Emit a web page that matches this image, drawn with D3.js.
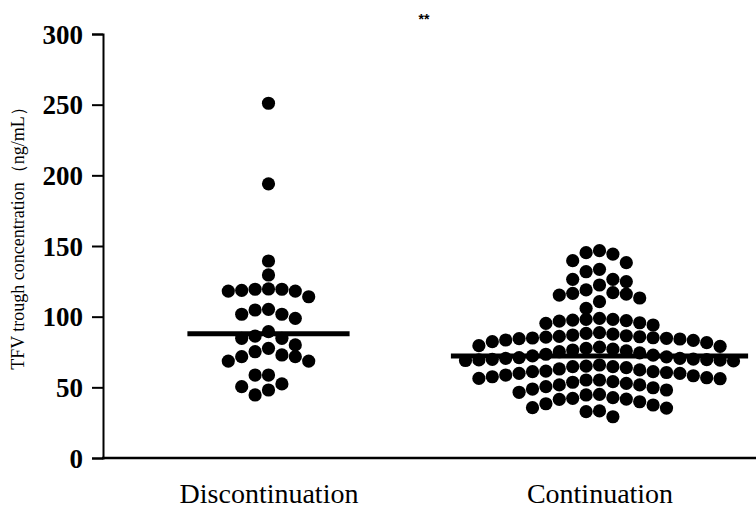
<!DOCTYPE html>
<html><head><meta charset="utf-8">
<script src="https://cdn.jsdelivr.net/npm/d3@7"></script>
<style>body{margin:0;background:#fff} svg{display:block}</style>
</head><body>
<svg id="chart" width="756" height="509"></svg>
<script>
// ---- data ----
const categories = ["Discontinuation", "Continuation"];
const discontinuation = [251, 194, 139.4, 129.5, 119.6, 119.4, 119.4, 118.6, 118.1, 118.1, 114.1,
  105.2, 104.7, 101.7, 101.7, 98.8, 89.4, 86.3, 84.7, 84.7, 80.0, 77.6, 75.2, 72.9, 71.7, 71.7,
  68.6, 68.6, 58.7, 58.7, 52.4, 50.5, 48.1, 44.6];
const continuation = [146.7, 145.3, 144.3, 139.6, 138.2,
  133.5, 131.8, 126.4, 126.4, 124.8,
  122.4, 118.9, 117.0, 116.5, 116.0, 115.3, 113.2,
  110.6, 105.9,
  98.8, 98.1, 98.1, 97.6, 97.2, 96.9, 95.7, 95.3, 94.1,
  88.7, 88.2, 87.6, 87.0, 86.5, 86.0, 85.8, 85.5, 85.1, 84.9, 84.7, 84.5, 84.2, 83.5, 83.2, 82.3, 81.6, 79.5, 79.0,
  78.4, 77.6, 77.0, 76.4, 75.8, 75.2, 74.4, 73.4, 72.8, 72.2, 71.6, 71.0, 70.5, 70.5, 70.0, 69.8, 69.6, 69.4, 69.2, 69.0, 68.7,
  65.8, 65.0, 64.6, 64.6, 63.9, 63.0, 62.3, 61.5, 61.1, 61.1, 60.5, 59.9, 59.9, 58.7, 58.2, 57.5, 56.8, 56.3, 56.1,
  55.2, 55.2, 54.0, 53.6, 52.8, 51.7, 51.7, 50.5, 49.7, 48.8, 48.1, 46.5,
  45.0, 44.6, 42.7, 42.2, 41.7, 41.5, 39.8, 38.4, 37.5, 35.6, 35.3,
  33.3, 32.8, 29.2];
const yTicks = [0, 50, 100, 150, 200, 250, 300];
const yTitle = "TFV trough concentration（ng/mL）";
const annotation = "**";

// ---- layout ----
const W = 756, H = 509;
const svg = d3.select("#chart");
const y = d3.scaleLinear().domain([0, 300]).range([458, 34]);
const x = d3.scalePoint().domain(categories).range([103, 765]).padding(0.5);
const step = x.step();
const R = 6.6, slotW = 13.4, rowPx = 13.85;

// Prism-like scatter: group sorted values into rows, spread each row from the centre outwards
function swarm(values, cx) {
  const sorted = values.slice().sort((a, b) => b - a);
  const rows = [];
  for (const v of sorted) {
    const cur = rows[rows.length - 1];
    if (!cur || y(v) - y(cur[0]) > rowPx) rows.push([v]);
    else cur.push(v);
  }
  const out = [];
  rows.forEach(row => row.forEach((v, i) => {
    const k = i === 0 ? 0 : (i % 2 === 1 ? -Math.ceil(i / 2) : Math.ceil(i / 2));
    out.push({ v, x: cx + k * slotW, y: y(v) });
  }));
  return out;
}

const groups = [discontinuation, continuation];
const serif = "'Times New Roman', 'Liberation Serif', serif";

// axes
const yAxis = svg.append("g").attr("transform", "translate(103,0)")
  .call(d3.axisLeft(y).tickValues(yTicks).tickSize(11).tickPadding(9));
yAxis.select(".domain").attr("stroke", "#000").attr("stroke-width", 2);
yAxis.selectAll(".tick line").attr("stroke", "#000").attr("stroke-width", 2);
yAxis.selectAll(".tick text").attr("font-family", serif).attr("font-weight", "bold")
  .attr("font-size", 27).attr("fill", "#000").attr("dy", "0.34em");

const xAxis = svg.append("g").attr("transform", "translate(0,458)")
  .call(d3.axisBottom(x).tickSize(0));
xAxis.select(".domain").attr("stroke", "#000").attr("stroke-width", 2.5)
  .attr("d", `M102,0H${W}`);
xAxis.selectAll(".tick text").attr("font-family", serif).attr("font-size", 28)
  .attr("fill", "#000").attr("dy", "0").attr("y", 45);

// points and median lines
groups.forEach((vals, gi) => {
  const cx = x(categories[gi]);
  const pts = swarm(vals, cx);
  svg.append("g").selectAll("circle").data(pts).join("circle")
    .attr("cx", d => d.x).attr("cy", d => d.y).attr("r", R).attr("fill", "#000");
  const half = Math.max(step * 0.245, d3.max(pts, d => Math.abs(d.x - cx)) + R + 8);
  const med = d3.median(vals);
  svg.append("line").attr("x1", cx - half).attr("x2", cx + half)
    .attr("y1", y(med)).attr("y2", y(med)).attr("stroke", "#000").attr("stroke-width", 5);
});

// y title
svg.append("text").attr("transform", "translate(24,234) rotate(-90)")
  .attr("text-anchor", "middle").attr("font-family", serif).attr("font-size", 18)
  .attr("fill", "#000").text(yTitle);

// significance annotation
svg.append("text").attr("x", 424).attr("y", 24).attr("text-anchor", "middle")
  .attr("font-family", "'Liberation Sans', Arial, sans-serif").attr("font-weight", "bold")
  .attr("font-size", 14).attr("fill", "#000").text(annotation);
</script>
</body></html>
